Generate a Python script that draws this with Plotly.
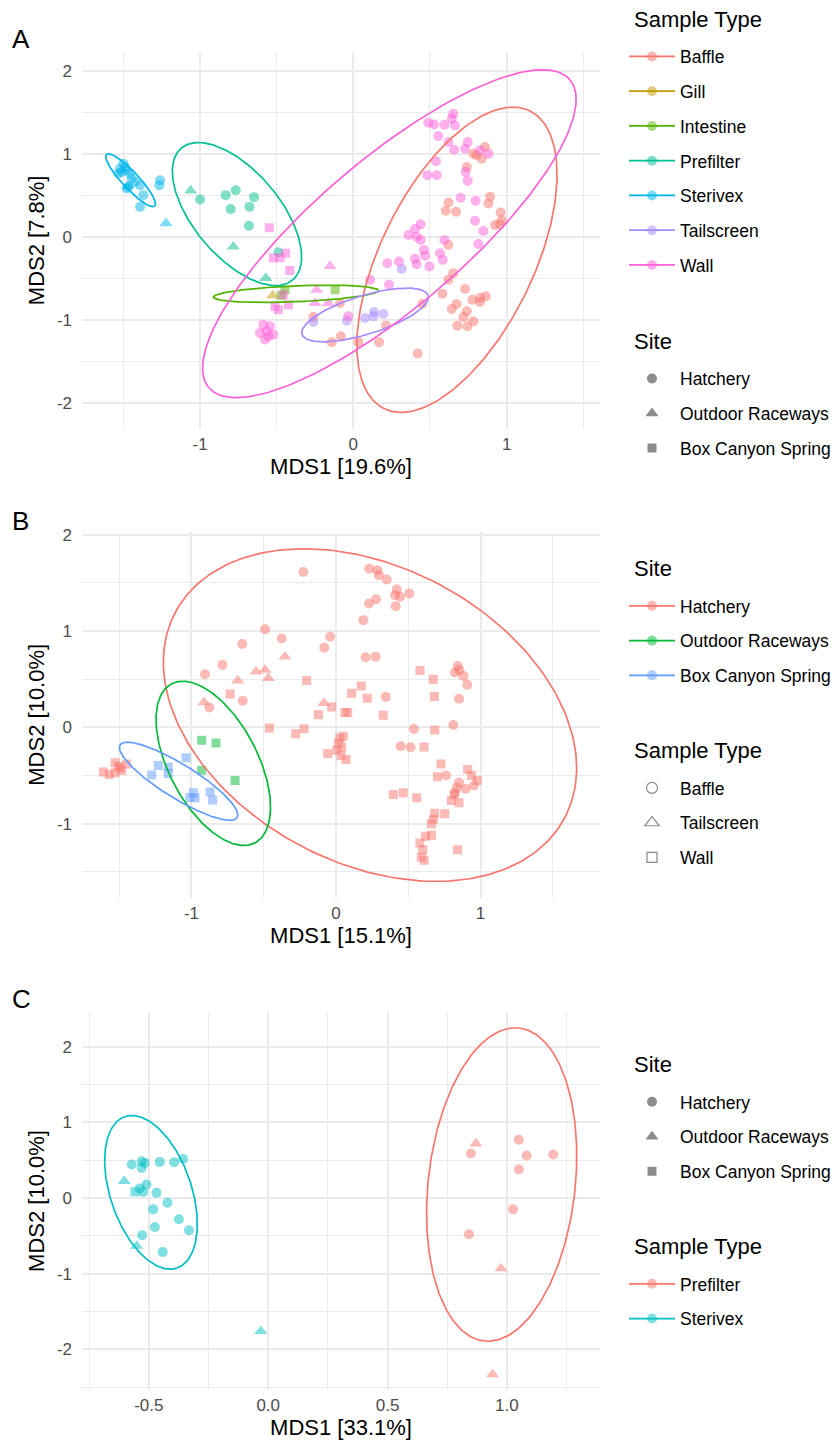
import numpy as np
import plotly.graph_objects as go

W, H = 836, 1445
FONT = "Liberation Sans, Arial, sans-serif"

# ================= Panel A (colour = sample type, shape = site) =================
A_sterivex_hatchery = [(-1.522, 0.828), (-1.489, 0.848), (-1.511, 0.788), (-1.478, 0.808), (-1.456, 0.768),
                       (-1.532, 0.768), (-1.500, 0.888), (-1.445, 0.708), (-1.424, 0.668), (-1.467, 0.608),
                       (-1.391, 0.628), (-1.370, 0.508), (-1.261, 0.688), (-1.265, 0.628), (-1.391, 0.367),
                       (-1.478, 0.588)]
A_sterivex_outdoor = [(-1.470, 0.620), (-1.222, 0.168)]
A_prefilter_hatchery = [(-1.000, 0.456), (-0.832, 0.508), (-0.767, 0.568), (-0.800, 0.340), (-0.678, 0.367),
                        (-0.648, 0.484), (-0.681, 0.140), (-0.489, -0.180)]
A_prefilter_outdoor = [(-1.061, 0.564), (-0.783, -0.113), (-0.571, -0.492)]
A_wall_spring = [(-0.548, 0.115), (-0.522, -0.248), (-0.478, -0.245), (-0.442, -0.192), (-0.415, -0.400),
                 (-0.457, -0.693), (-0.511, -0.833), (-0.489, -0.873), (-0.424, -0.813)]
A_wall_outdoor = [(-0.152, -0.347), (-0.239, -0.633), (-0.250, -0.793), (-0.163, -0.793)]
A_wall_hatchery = [(-0.587, -1.053), (-0.543, -1.073), (-0.609, -1.153), (-0.565, -1.133), (-0.522, -1.173),
                   (-0.576, -1.233), (-0.554, -1.193),
                   (0.652, 1.489), (0.642, 1.428), (0.489, 1.380), (0.526, 1.360), (0.594, 1.356), (0.663, 1.348),
                   (0.554, 1.220), (0.620, 1.148), (0.657, 1.056), (0.729, 1.068), (0.746, 1.148), (0.826, 1.048),
                   (0.881, 1.008), (0.539, 0.916), (0.483, 0.748), (0.544, 0.748), (0.733, 0.788), (0.746, 0.680),
                   (0.700, 0.476), (0.798, 0.440), (0.794, 0.199), (0.848, 0.076), (0.815, -0.080), (0.594, -0.032),
                   (0.439, 0.156), (0.402, 0.100), (0.359, 0.028), (0.413, 0.007), (0.439, -0.032), (0.461, -0.152),
                   (0.468, -0.221), (0.565, -0.192), (0.583, -0.272), (0.402, -0.260), (0.413, -0.324), (0.496, -0.353),
                   (0.222, -0.312), (0.298, -0.292), (0.109, -0.513), (0.233, -0.573), (-0.033, -0.953)]
A_baffle_hatchery = [(0.859, 1.088), (0.805, 0.988), (0.838, 0.948), (0.783, 1.008), (0.740, 0.848), (0.892, 0.488),
                     (0.881, 0.408), (0.620, 0.420), (0.603, 0.320), (0.670, 0.308), (0.961, 0.300), (0.924, 0.148),
                     (0.957, 0.156), (0.968, 0.208), (0.620, -0.092), (0.652, -0.432), (0.620, -0.512), (0.581, -0.680),
                     (0.729, -0.624), (0.776, -0.752), (0.826, -0.732), (0.864, -0.712), (0.826, -0.780), (0.674, -0.804),
                     (0.642, -0.864), (0.740, -0.892), (0.718, -0.960), (0.783, -1.013), (0.678, -1.065), (0.744, -1.073),
                     (0.450, -0.804), (-0.087, -0.793), (-0.261, -0.960), (0.213, -1.065), (-0.082, -1.193),
                     (-0.141, -1.265), (0.033, -1.261), (0.168, -1.265), (0.420, -1.401)]
A_tailscreen_hatchery = [(0.316, -0.381), (-0.261, -1.021), (-0.043, -1.005), (0.076, -0.973), (0.135, -0.901),
                         (0.196, -0.925), (0.131, -0.953)]
A_gill_outdoor = [(-0.526, -0.701)]
A_intestine_spring = [(-0.446, -0.633), (-0.119, -0.633), (-0.470, -0.700)]

A_types = ["Baffle", "Gill", "Intestine", "Prefilter", "Sterivex", "Tailscreen", "Wall"]
A_sites = ["Hatchery", "Outdoor Raceways", "Box Canyon Spring"]

# ellipse: centre and two conjugate semi-axis vectors (data units)
A_ell_type = ["Baffle", "Intestine", "Prefilter", "Sterivex", "Tailscreen", "Wall"]
A_ell_cx = [0.676, -0.375, -0.759, -1.453, 0.076, 0.235]
A_ell_cy = [-0.271, -0.681, 0.280, 0.688, -0.936, 0.043]
A_ell_ax = [0.474, 0.538, 0.363, 0.157, 0.411, 1.177]
A_ell_ay = [1.796, 0.040, -0.795, -0.312, 0.235, 1.857]
A_ell_bx = [0.449, 0.000, -0.215, 0.040, 0.038, 0.315]
A_ell_by = [-0.401, -0.096, -0.333, 0.067, -0.223, -0.676]

# ================= Panel B (colour = site, shape = sample type) =================
B_hatchery_baffle = [(-0.226, 1.613), (-0.491, 1.017), (-0.376, 0.923), (-0.648, 0.865), (-0.041, 0.941),
                     (-0.081, 0.827), (-0.786, 0.648), (-0.906, 0.551), (-0.645, 0.275), (-0.876, 0.207),
                     (0.230, 1.647), (0.286, 1.630), (0.297, 1.578), (0.351, 1.534), (0.420, 1.430), (0.443, 1.355),
                     (0.408, 1.372), (0.507, 1.389), (0.277, 1.330), (0.228, 1.285), (0.413, 1.258), (0.189, 1.113),
                     (0.205, 0.727), (0.274, 0.734), (0.842, 0.637), (0.823, 0.569), (0.853, 0.596), (0.881, 0.534),
                     (0.908, 0.441), (0.851, 0.296), (0.344, 0.316), (0.811, 0.024), (0.539, -0.018), (0.447, -0.196),
                     (0.516, -0.207), (0.761, -0.500), (0.851, -0.576), (0.835, -0.628), (0.823, -0.679),
                     (0.897, -0.638), (0.954, -0.604)]
B_hatchery_tailscreen = [(-0.353, 0.734), (-0.553, 0.579), (-0.491, 0.596), (-0.468, 0.510), (-0.680, 0.486),
                         (-0.913, 0.259), (-0.083, 0.251)]
B_hatchery_wall = [(-0.203, 0.486), (-0.733, 0.347), (-0.461, -0.007), (-0.030, 0.210), (-0.122, 0.130),
                   (0.062, 0.155), (0.081, 0.155), (0.108, 0.355), (0.175, 0.430), (-0.221, -0.014), (-0.279, -0.066),
                   (0.028, -0.111), (0.051, -0.093), (0.016, -0.162), (0.039, -0.204), (0.005, -0.238), (0.035, -0.293),
                   (0.069, -0.335), (-0.057, -0.273),
                   (-1.609, -0.465), (-1.568, -0.490), (-1.528, -0.369), (-1.505, -0.403), (-1.528, -0.473),
                   (-1.482, -0.449), (-1.448, -0.380), (-1.494, -0.421),
                   (0.581, 0.589), (0.673, 0.499), (0.216, 0.303), (0.680, 0.320), (0.327, 0.124), (0.683, -0.028),
                   (0.609, -0.204), (0.726, -0.380), (0.701, -0.514), (0.911, -0.438), (0.938, -0.500), (0.977, -0.552),
                   (0.396, -0.697), (0.465, -0.679), (0.558, -0.731), (0.798, -0.759), (0.851, -0.783), (0.818, -0.697),
                   (0.683, -0.893), (0.752, -0.897), (0.673, -0.955),
                   (0.620, -1.130), (0.660, -1.120), (0.580, -1.200), (0.600, -1.270), (0.590, -1.350),
                   (0.610, -1.380), (0.840, -1.270), (0.660, -1.000)]
B_outdoor_wall = [(-0.929, -0.135), (-0.830, -0.162), (-0.929, -0.445), (-0.698, -0.552)]
B_spring_wall = [(-1.275, -0.496), (-1.229, -0.397), (-1.160, -0.411), (-1.160, -0.480), (-1.037, -0.317),
                 (-0.987, -0.679), (-0.975, -0.731), (-0.871, -0.672), (-0.853, -0.755), (-1.010, -0.730)]

B_sites = ["Hatchery", "Outdoor Raceways", "Box Canyon Spring"]
B_types = ["Baffle", "Tailscreen", "Wall"]

B_ell_site = ["Hatchery", "Outdoor Raceways", "Box Canyon Spring"]
B_ell_cx = [0.235, -0.849, -1.089]
B_ell_cy = [0.127, -0.374, -0.560]
B_ell_ax = [1.346, 0.288, 0.405]
B_ell_ay = [-1.069, -0.826, -0.377]
B_ell_bx = [-0.481, -0.272, -0.062]
B_ell_by = [-1.356, -0.212, -0.149]

# ================= Panel C (colour = sample type, shape = site) =================
C_sterivex_hatchery = [(-0.572, 0.443), (-0.530, 0.487), (-0.517, 0.465), (-0.530, 0.399), (-0.454, 0.478),
                       (-0.394, 0.474), (-0.356, 0.517), (-0.538, 0.128), (-0.510, 0.180), (-0.524, 0.079),
                       (-0.468, 0.070), (-0.422, -0.061), (-0.482, -0.149), (-0.374, -0.281), (-0.332, -0.425),
                       (-0.475, -0.382), (-0.528, -0.491), (-0.442, -0.711)]
C_sterivex_outdoor = [(-0.603, 0.224), (-0.551, -0.632), (-0.031, -1.759)]
C_sterivex_spring = [(-0.558, 0.083)]
C_prefilter_hatchery = [(1.050, 0.772), (1.083, 0.562), (1.194, 0.575), (1.050, 0.378), (0.849, 0.588),
                        (1.026, -0.149), (0.841, -0.478)]
C_prefilter_outdoor = [(0.870, 0.720), (0.975, -0.930), (0.940, -2.330)]

C_sites = ["Hatchery", "Outdoor Raceways", "Box Canyon Spring"]
C_types = ["Prefilter", "Sterivex"]

C_ell_type = ["Prefilter", "Sterivex"]
C_ell_cx = [0.978, -0.491]
C_ell_cy = [0.179, 0.076]
C_ell_ax = [0.0729, 0.1085]
C_ell_ay = [2.068, -1.001]
C_ell_bx = [0.306, -0.161]
C_ell_by = [-0.1066, -0.171]

# tick labels
A_xticks, A_xlabels = [-1, 0, 1], ["-1", "0", "1"]
A_yticks, A_ylabels = [-2, -1, 0, 1, 2], ["-2", "-1", "0", "1", "2"]
B_xticks, B_xlabels = [-1, 0, 1], ["-1", "0", "1"]
B_yticks, B_ylabels = [-1, 0, 1, 2], ["-1", "0", "1", "2"]
C_xticks, C_xlabels = [-0.5, 0.0, 0.5, 1.0], ["-0.5", "0.0", "0.5", "1.0"]
C_yticks, C_ylabels = [-2, -1, 0, 1, 2], ["-2", "-1", "0", "1", "2"]

# ================= styling =================
TYPE_COL_A = {"Baffle": "#F8766D", "Gill": "#C49A00", "Intestine": "#53B400", "Prefilter": "#00C094",
              "Sterivex": "#00B6EB", "Tailscreen": "#A58AFF", "Wall": "#FB61D7"}
SITE_COL_B = {"Hatchery": "#F8766D", "Outdoor Raceways": "#00BA38", "Box Canyon Spring": "#619CFF"}
TYPE_COL_C = {"Prefilter": "#F8766D", "Sterivex": "#00BFC4"}
SITE_SYM = {"Hatchery": "circle", "Outdoor Raceways": "triangle-up", "Box Canyon Spring": "square"}
TYPE_SYM_B = {"Baffle": "circle", "Tailscreen": "triangle-up", "Wall": "square"}
SYM_SIZE = {"circle": 10, "triangle-up": 11.5, "square": 9}
ALPHA = 0.5

fig = go.Figure()


def add_points(pts, color, symbol, xa, ya):
    arr = np.array(pts, dtype=float)
    fig.add_trace(go.Scatter(x=arr[:, 0], y=arr[:, 1], mode="markers", showlegend=False, hoverinfo="skip",
                             marker=dict(symbol=symbol, size=SYM_SIZE[symbol], color=color, opacity=ALPHA,
                                         line=dict(width=0)),
                             xaxis=xa, yaxis=ya))


def add_ellipses(names, cx, cy, axv, ayv, bxv, byv, cmap, xa, ya):
    t = np.linspace(0, 2 * np.pi, 241)
    for i, n in enumerate(names):
        ex = cx[i] + axv[i] * np.cos(t) + bxv[i] * np.sin(t)
        ey = cy[i] + ayv[i] * np.cos(t) + byv[i] * np.sin(t)
        fig.add_trace(go.Scatter(x=ex, y=ey, mode="lines", showlegend=False, hoverinfo="skip",
                                 line=dict(color=cmap[n], width=1.7), xaxis=xa, yaxis=ya))


def legend_colour(name, color, legend, xa, ya):
    fig.add_trace(go.Scatter(x=[None], y=[None], mode="lines+markers", name=name, legend=legend,
                             legendgroup=legend + name, showlegend=True,
                             line=dict(color=color, width=1.7),
                             marker=dict(symbol="circle", size=10, color=color, opacity=ALPHA),
                             xaxis=xa, yaxis=ya))


def legend_shape(name, symbol, legend, xa, ya, open_=False):
    if open_:
        mk = dict(symbol=symbol + "-open", size=SYM_SIZE[symbol] + 1, color="#8A8A8A", line=dict(width=1.2))
    else:
        mk = dict(symbol=symbol, size=SYM_SIZE[symbol], color="rgba(0,0,0,0.45)", line=dict(width=0))
    fig.add_trace(go.Scatter(x=[None], y=[None], mode="markers", name=name, legend=legend,
                             legendgroup=legend + name, showlegend=True, marker=mk, xaxis=xa, yaxis=ya))


# ---- Panel A
A_groups = [
    (A_baffle_hatchery, "Baffle", "Hatchery"),
    (A_gill_outdoor, "Gill", "Outdoor Raceways"),
    (A_intestine_spring, "Intestine", "Box Canyon Spring"),
    (A_prefilter_hatchery, "Prefilter", "Hatchery"),
    (A_prefilter_outdoor, "Prefilter", "Outdoor Raceways"),
    (A_sterivex_hatchery, "Sterivex", "Hatchery"),
    (A_sterivex_outdoor, "Sterivex", "Outdoor Raceways"),
    (A_tailscreen_hatchery, "Tailscreen", "Hatchery"),
    (A_wall_hatchery, "Wall", "Hatchery"),
    (A_wall_outdoor, "Wall", "Outdoor Raceways"),
    (A_wall_spring, "Wall", "Box Canyon Spring"),
]
for pts, ty, si in A_groups:
    add_points(pts, TYPE_COL_A[ty], SITE_SYM[si], "x", "y")
add_ellipses(A_ell_type, A_ell_cx, A_ell_cy, A_ell_ax, A_ell_ay, A_ell_bx, A_ell_by, TYPE_COL_A, "x", "y")
for ty in A_types:
    legend_colour(ty, TYPE_COL_A[ty], "legend", "x", "y")
for si in A_sites:
    legend_shape(si, SITE_SYM[si], "legend2", "x", "y")

# ---- Panel B
B_groups = [
    (B_hatchery_baffle, "Hatchery", "Baffle"),
    (B_hatchery_tailscreen, "Hatchery", "Tailscreen"),
    (B_hatchery_wall, "Hatchery", "Wall"),
    (B_outdoor_wall, "Outdoor Raceways", "Wall"),
    (B_spring_wall, "Box Canyon Spring", "Wall"),
]
for pts, si, ty in B_groups:
    add_points(pts, SITE_COL_B[si], TYPE_SYM_B[ty], "x2", "y2")
add_ellipses(B_ell_site, B_ell_cx, B_ell_cy, B_ell_ax, B_ell_ay, B_ell_bx, B_ell_by, SITE_COL_B, "x2", "y2")
for si in B_sites:
    legend_colour(si, SITE_COL_B[si], "legend3", "x2", "y2")
for ty in B_types:
    legend_shape(ty, TYPE_SYM_B[ty], "legend4", "x2", "y2", open_=True)

# ---- Panel C
C_groups = [
    (C_prefilter_hatchery, "Prefilter", "Hatchery"),
    (C_prefilter_outdoor, "Prefilter", "Outdoor Raceways"),
    (C_sterivex_hatchery, "Sterivex", "Hatchery"),
    (C_sterivex_outdoor, "Sterivex", "Outdoor Raceways"),
    (C_sterivex_spring, "Sterivex", "Box Canyon Spring"),
]
for pts, ty, si in C_groups:
    add_points(pts, TYPE_COL_C[ty], SITE_SYM[si], "x3", "y3")
add_ellipses(C_ell_type, C_ell_cx, C_ell_cy, C_ell_ax, C_ell_ay, C_ell_bx, C_ell_by, TYPE_COL_C, "x3", "y3")
for si in C_sites:
    legend_shape(si, SITE_SYM[si], "legend5", "x3", "y3")
for ty in C_types:
    legend_colour(ty, TYPE_COL_C[ty], "legend6", "x3", "y3")

# ================= layout =================
GRID = "#EBEBEB"
XDOM = [82 / W, 600 / W]


def ydom(top_px, bot_px):
    return [1 - bot_px / H, 1 - top_px / H]


def xaxis(rng, tv, tt, title, minor_dt, anchor):
    return dict(domain=XDOM, range=rng, anchor=anchor, tickmode="array", tickvals=tv, ticktext=tt,
                showgrid=True, gridcolor=GRID, gridwidth=2, zeroline=False, showline=False, ticks="",
                tickfont=dict(size=17, color="#4D4D4D", family=FONT), ticklabelstandoff=3,
                minor=dict(dtick=minor_dt, tick0=0, showgrid=True, gridcolor=GRID, gridwidth=1),
                title=dict(text=title, font=dict(size=22, color="black", family=FONT), standoff=2))


def yaxis(dom, rng, tv, tt, title, minor_dt, anchor):
    return dict(domain=dom, range=rng, anchor=anchor, tickmode="array", tickvals=tv, ticktext=tt,
                showgrid=True, gridcolor=GRID, gridwidth=2, zeroline=False, showline=False, ticks="",
                tickfont=dict(size=17, color="#4D4D4D", family=FONT), ticklabelstandoff=9,
                minor=dict(dtick=minor_dt, tick0=0, showgrid=True, gridcolor=GRID, gridwidth=1),
                title=dict(text=title, font=dict(size=22, color="black", family=FONT), standoff=6))


ITEM_OFFSET = 24  # px from legend top to first entry centre
TITLE_NUDGE = 5   # visual centre correction for the title annotations


def legend(first_item_px):
    return dict(font=dict(size=17.5, color="black", family=FONT),
                x=624 / W, xanchor="left", y=1 - (first_item_px - ITEM_OFFSET) / H, yanchor="top",
                bgcolor="rgba(0,0,0,0)", borderwidth=0, tracegroupgap=9, traceorder="grouped",
                itemwidth=46, itemclick=False, itemdoubleclick=False, title=dict(text=""))


# legend titles (px from top, visual centre)
LEG_TITLES = [("Sample Type", 18.3), ("Site", 341.7), ("Site", 570.0), ("Sample Type", 752.8),
              ("Site", 1068.0), ("Sample Type", 1250.8)]
GAP_TITLE_ITEM = 38.4

fig.update_layout(
    width=W, height=H, margin=dict(l=0, r=0, t=0, b=0),
    paper_bgcolor="white", plot_bgcolor="white",
    font=dict(family=FONT, color="black"),
    xaxis=xaxis([-1.770, 1.609], A_xticks, A_xlabels, "MDS1 [19.6%]", 0.5, "y"),
    yaxis=yaxis(ydom(46, 424.7), [-2.310, 2.236], A_yticks, A_ylabels, "MDS2 [7.8%]", 0.5, "x"),
    xaxis2=xaxis([-1.757, 1.826], B_xticks, B_xlabels, "MDS1 [15.1%]", 0.5, "y2"),
    yaxis2=yaxis(ydom(528, 895.5), [-1.77, 2.03], B_yticks, B_ylabels, "MDS2 [10.0%]", 0.5, "x2"),
    xaxis3=xaxis([-0.780, 1.390], C_xticks, C_xlabels, "MDS1 [33.1%]", 0.25, "y3"),
    yaxis3=yaxis(ydom(1010, 1390), [-2.539, 2.461], C_yticks, C_ylabels, "MDS2 [10.0%]", 0.5, "x3"),
    showlegend=True,
)
leg_names = ["legend", "legend2", "legend3", "legend4", "legend5", "legend6"]
for name, (title, ty) in zip(leg_names, LEG_TITLES):
    fig.update_layout({name: legend(ty + GAP_TITLE_ITEM)})
    fig.add_annotation(text=title, xref="paper", yref="paper", x=632 / W, y=1 - (ty - TITLE_NUDGE) / H,
                       xanchor="left", yanchor="middle", showarrow=False,
                       font=dict(size=22, color="black", family=FONT))

for tag, ypx in [("A", 33), ("B", 517), ("C", 997)]:
    fig.add_annotation(text=tag, xref="paper", yref="paper", x=10 / W, y=1 - ypx / H,
                       xanchor="left", yanchor="middle", showarrow=False,
                       font=dict(size=26, color="black", family=FONT))

fig.write_html("out.html")
